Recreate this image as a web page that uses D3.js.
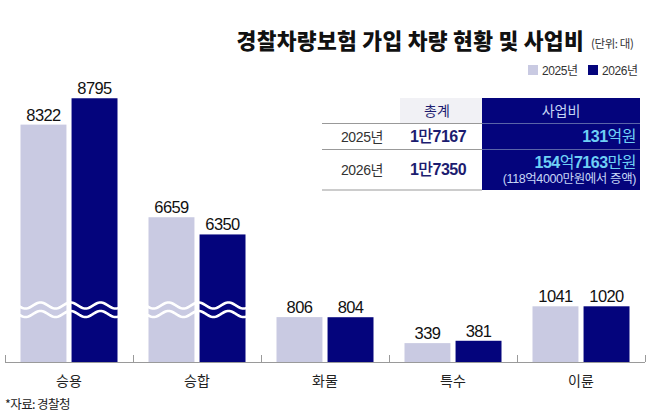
<!DOCTYPE html>
<html>
<head>
<meta charset="utf-8">
<title>경찰차량보험 가입 차량 현황 및 사업비</title>
<style>
  body { margin: 0; background: #fff; }
  svg { display: block; }
  text { font-family: "Liberation Sans", "Noto Sans CJK KR", sans-serif; }
  .kr { font-family: "Noto Sans CJK KR", sans-serif; }
</style>
<script src="https://d3js.org/d3.v7.min.js"></script>
</head>
<body>
<div id="chart"></div>
<script>
// data
var categories = ["승용", "승합", "화물", "특수", "이륜"];
var seriesNames = ["2025년", "2026년"];
var values2025 = [8322, 6659, 806, 339, 1041];
var values2026 = [8795, 6350, 804, 381, 1020];

// table
var tableHead = ["총계", "사업비"];
var tableYears = ["2025년", "2026년"];
var tableTotals = [["1", "만", "7167"], ["1", "만", "7350"]];
var tableCosts = [["131", "억원"], ["154", "억", "7163", "만원"]];
var tableNote = "(118억4000만원에서 증액)";

var colors = ["#c9cae2", "#04047c"];

var W = 665, H = 417;
var base = 362;
// broken axis: values between breakLo and breakHi are cut out
var breakLo = 1000, breakHi = 5060;

var svg = d3.select("#chart").append("svg")
  .attr("width", W)
  .attr("height", H);

var data = categories.map(function(c, i) {
  return {cat: c, vals: [values2025[i], values2026[i]]};
});

var x = d3.scaleBand()
  .domain(categories)
  .range([5, 645]);

var x1 = d3.scaleBand()
  .domain(seriesNames)
  .range([0, 97])
  .paddingInner(0.1);

var groupOff = (x.bandwidth() - 97) / 2;

var k = 0.0557;
var yB = base - breakLo * k;
var y = d3.scaleLinear()
  .domain([0, breakLo, breakHi, 9000])
  .range([base, yB, yB, yB - (9000 - breakHi) * k]);

// bars
var groups = svg.append("g").selectAll("g")
  .data(data)
  .enter().append("g")
  .attr("transform", function(d) { return "translate(" + (x(d.cat) + groupOff) + ",0)"; });

groups.selectAll("rect")
  .data(function(d) { return d.vals; })
  .enter().append("rect")
  .attr("x", function(d, i) { return x1(seriesNames[i]); })
  .attr("y", function(d) { return y(d); })
  .attr("width", x1.bandwidth())
  .attr("height", function(d) { return base - y(d); })
  .attr("fill", function(d, i) { return colors[i]; });

groups.selectAll("text.val")
  .data(function(d) { return d.vals; })
  .enter().append("text")
  .attr("class", "val")
  .attr("x", function(d, i) { return x1(seriesNames[i]) + x1.bandwidth() / 2; })
  .attr("y", function(d) { return y(d) - 4; })
  .attr("text-anchor", "middle")
  .attr("font-size", 16.5)
  .attr("letter-spacing", -0.6)
  .attr("fill", "#111")
  .text(function(d) { return d; });

// wavy break marks on cut bars
var wave = d3.line();
groups.filter(function(d) { return d3.max(d.vals) > breakHi; })
  .each(function() {
    var g = d3.select(this);
    [305.5, 314].forEach(function(yc) {
      var pts = d3.range(-2, 100, 1).map(function(px) {
        return [px, yc - 3 * Math.cos(2 * Math.PI * (px - 20) / 30)];
      });
      g.append("path")
        .attr("d", wave(pts))
        .attr("fill", "none")
        .attr("stroke", "#fff")
        .attr("stroke-width", 2.6);
    });
  });

// axis
svg.append("line")
  .attr("x1", x.range()[0]).attr("x2", x.range()[1])
  .attr("y1", base + 0.5).attr("y2", base + 0.5)
  .attr("stroke", "#9a9a9a");

var tickPos = categories.map(function(c) { return x(c); }).concat([x.range()[1]]);
svg.append("g").selectAll("line")
  .data(tickPos)
  .enter().append("line")
  .attr("x1", function(d) { return d + 0.5; })
  .attr("x2", function(d) { return d + 0.5; })
  .attr("y1", base - 7)
  .attr("y2", base)
  .attr("stroke", "#9a9a9a");

svg.append("g").selectAll("text")
  .data(categories)
  .enter().append("text")
  .attr("class", "kr")
  .attr("x", function(d) { return x(d) + x.bandwidth() / 2; })
  .attr("y", 386)
  .attr("text-anchor", "middle")
  .attr("font-size", 14)
  .attr("fill", "#222")
  .text(function(d) { return d; });

// title
svg.append("text")
  .attr("class", "kr")
  .attr("x", 584)
  .attr("y", 49)
  .attr("text-anchor", "end")
  .attr("font-size", 21.5)
  .attr("font-weight", 900)
  .attr("letter-spacing", 0.3)
  .attr("fill", "#111")
  .text("경찰차량보험 가입 차량 현황 및 사업비");

svg.append("text")
  .attr("class", "kr")
  .attr("x", 591)
  .attr("y", 47.5)
  .attr("font-size", 11.5)
  .attr("letter-spacing", -0.4)
  .attr("fill", "#333")
  .text("(단위: 대)");

// legend
var legend = svg.append("g");
var legX = [528, 588];
legend.selectAll("rect")
  .data(seriesNames)
  .enter().append("rect")
  .attr("x", function(d, i) { return legX[i]; })
  .attr("y", 65)
  .attr("width", 10)
  .attr("height", 10)
  .attr("fill", function(d, i) { return colors[i]; });

legend.selectAll("text")
  .data(seriesNames)
  .enter().append("text")
  .attr("x", function(d, i) { return legX[i] + 14; })
  .attr("y", 74.5)
  .attr("font-size", 12)
  .attr("letter-spacing", -0.4)
  .attr("fill", "#333")
  .text(function(d) { return d; });

// table
var tb = svg.append("g");

tb.append("rect")
  .attr("x", 400).attr("y", 98)
  .attr("width", 82).attr("height", 25.5)
  .attr("fill", "#f1f1f5");

tb.append("rect")
  .attr("x", 482).attr("y", 98)
  .attr("width", 158).attr("height", 92)
  .attr("fill", "#04047c");

[123.5, 149.5, 190].forEach(function(ly) {
  tb.append("line")
    .attr("x1", 322).attr("x2", 482)
    .attr("y1", ly).attr("y2", ly)
    .attr("stroke", "#999");
});
[123.5, 149.5].forEach(function(ly) {
  tb.append("line")
    .attr("x1", 482).attr("x2", 640)
    .attr("y1", ly).attr("y2", ly)
    .attr("stroke", "#5a64a8");
});

tb.append("text")
  .attr("class", "kr")
  .attr("x", 437).attr("y", 116)
  .attr("text-anchor", "middle")
  .attr("font-size", 14)
  .attr("fill", "#1c1c70")
  .text(tableHead[0]);

tb.append("text")
  .attr("class", "kr")
  .attr("x", 561).attr("y", 116)
  .attr("text-anchor", "middle")
  .attr("font-size", 14)
  .attr("fill", "#c6d6f6")
  .text(tableHead[1]);

var yearY = [141.5, 174.5];
tb.selectAll("text.year")
  .data(tableYears)
  .enter().append("text")
  .attr("class", "year")
  .attr("x", 362)
  .attr("y", function(d, i) { return yearY[i]; })
  .attr("text-anchor", "middle")
  .attr("font-size", 14)
  .attr("letter-spacing", -0.4)
  .attr("fill", "#333")
  .text(function(d) { return d; });

tb.selectAll("text.total")
  .data(tableTotals)
  .enter().append("text")
  .attr("class", "total")
  .attr("x", 438)
  .attr("y", function(d, i) { return yearY[i]; })
  .attr("text-anchor", "middle")
  .attr("font-size", 16)
  .attr("letter-spacing", -0.5)
  .attr("fill", "#1c1c70")
  .each(function(parts) {
    var t = d3.select(this);
    parts.forEach(function(p, j) {
      t.append("tspan")
        .attr("font-weight", j % 2 === 0 ? 700 : 500)
        .text(p);
    });
  });

var costY = [141.5, 168];
tb.selectAll("text.cost")
  .data(tableCosts)
  .enter().append("text")
  .attr("class", "cost")
  .attr("x", 636)
  .attr("y", function(d, i) { return costY[i]; })
  .attr("text-anchor", "end")
  .attr("font-size", 16)
  .attr("letter-spacing", -0.5)
  .attr("fill", "#6fd0f5")
  .each(function(parts) {
    var t = d3.select(this);
    parts.forEach(function(p, j) {
      t.append("tspan")
        .attr("font-weight", j % 2 === 0 ? 700 : 400)
        .text(p);
    });
  });

tb.append("text")
  .attr("x", 636).attr("y", 183)
  .attr("text-anchor", "end")
  .attr("font-size", 12.5)
  .attr("letter-spacing", -0.4)
  .attr("fill", "#c6d6f6")
  .text(tableNote);

// source
svg.append("text")
  .attr("class", "kr")
  .attr("x", 5)
  .attr("y", 409)
  .attr("font-size", 12.5)
  .attr("letter-spacing", -0.6)
  .attr("fill", "#222")
  .text("*자료: 경찰청");
</script>
</body>
</html>
